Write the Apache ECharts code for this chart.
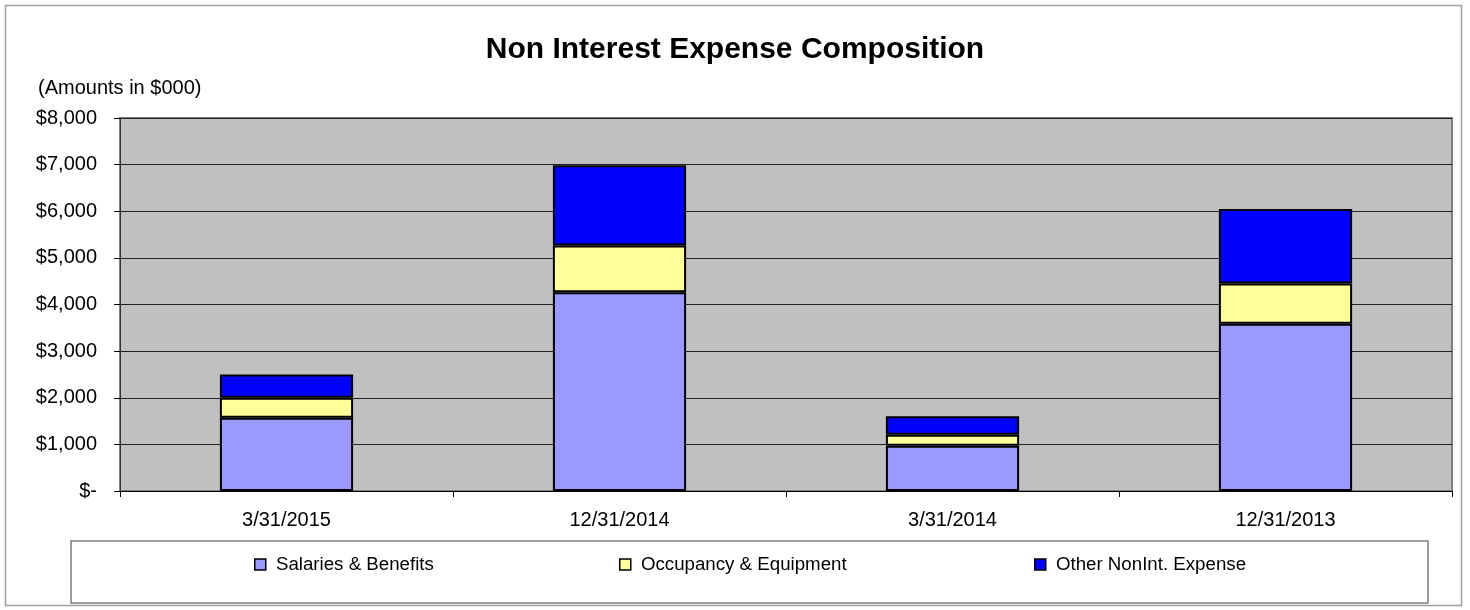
<!DOCTYPE html>
<html>
<head>
<meta charset="utf-8">
<script src="https://cdn.jsdelivr.net/npm/echarts@6/dist/echarts.min.js"></script>
<style>
html,body{margin:0;padding:0;background:#fff;}
#chart{width:1470px;height:610px;}
</style>
</head>
<body>
<div id="chart"></div>
<script>
var categories = ['3/31/2015', '12/31/2014', '3/31/2014', '12/31/2013'];
var salaries = [1570, 4265, 970, 3585];
var occupancy = [430, 1000, 235, 865];
var otherExp = [500, 1720, 400, 1600];
var yTicks = [0, 1000, 2000, 3000, 4000, 5000, 6000, 7000, 8000];

var FONT = '"Liberation Sans", Arial, sans-serif';
var chart = echarts.init(document.getElementById('chart'), null, {renderer: 'canvas'});

function fmt(v) {
  if (v === 0) return '$-';
  return '$' + v.toString().replace(/\B(?=(\d{3})+(?!\d))/g, ',');
}

function mkLegend(name, left) {
  return {
    data: [name],
    left: left,
    top: 550,
    padding: 5,
    itemWidth: 11,
    itemHeight: 11,
    icon: 'rect',
    formatter: function (n) { return ' ' + n; },
    itemStyle: {borderColor: '#000', borderWidth: 1.5},
    textStyle: {fontFamily: FONT, fontSize: 18.7, color: '#000'}
  };
}

var barBorder = {borderColor: '#000', borderWidth: 2};

chart.setOption({
  animation: false,
  backgroundColor: '#fff',
  title: {
    text: 'Non Interest Expense Composition',
    left: 'center',
    top: 30,
    textStyle: {fontFamily: FONT, fontSize: 30, fontWeight: 'bold', color: '#000'}
  },
  graphic: [
    {type: 'rect', shape: {x: 5.5, y: 5.5, width: 1456, height: 600}, style: {fill: 'none', stroke: '#a0a0a0', lineWidth: 1.5}, z: -10},
    {type: 'rect', shape: {x: 71, y: 541, width: 1357, height: 62}, style: {fill: '#fff', stroke: '#808080', lineWidth: 1.5}, z: -5},
    {type: 'text', left: 38, top: 78, style: {text: '(Amounts in $000)', font: '20px ' + FONT, fill: '#000'}}
  ],
  legend: [
    mkLegend('Salaries & Benefits', 249),
    mkLegend('Occupancy & Equipment', 614),
    mkLegend('Other NonInt. Expense', 1029)
  ],
  grid: {
    left: 120, right: 18, top: 118, bottom: 119,
    show: true, backgroundColor: '#C0C0C0', borderColor: '#808080', borderWidth: 2
  },
  xAxis: {
    type: 'category',
    data: categories,
    boundaryGap: true,
    axisLine: {lineStyle: {color: '#000', width: 1}},
    axisTick: {show: true, alignWithLabel: false, length: 6, lineStyle: {color: '#000'}},
    axisLabel: {fontFamily: FONT, fontSize: 20, color: '#000', margin: 19}
  },
  yAxis: {
    type: 'value',
    min: yTicks[0],
    max: yTicks[yTicks.length - 1],
    interval: 1000,
    axisLine: {show: true, lineStyle: {color: '#333', width: 1}},
    axisTick: {show: true, length: 6, lineStyle: {color: '#000'}},
    axisLabel: {fontFamily: FONT, fontSize: 20, color: '#000', margin: 23, formatter: fmt},
    splitLine: {show: true, lineStyle: {color: '#222', width: 1}}
  },
  series: [
    {name: 'Salaries & Benefits', type: 'bar', stack: 'total', data: salaries, barWidth: '40%',
     itemStyle: Object.assign({color: '#9999FF'}, barBorder)},
    {name: 'Occupancy & Equipment', type: 'bar', stack: 'total', data: occupancy, barWidth: '40%',
     itemStyle: Object.assign({color: '#FFFF99'}, barBorder)},
    {name: 'Other NonInt. Expense', type: 'bar', stack: 'total', data: otherExp, barWidth: '40%',
     itemStyle: Object.assign({color: '#0000FF'}, barBorder)}
  ]
});
</script>
</body>
</html>
